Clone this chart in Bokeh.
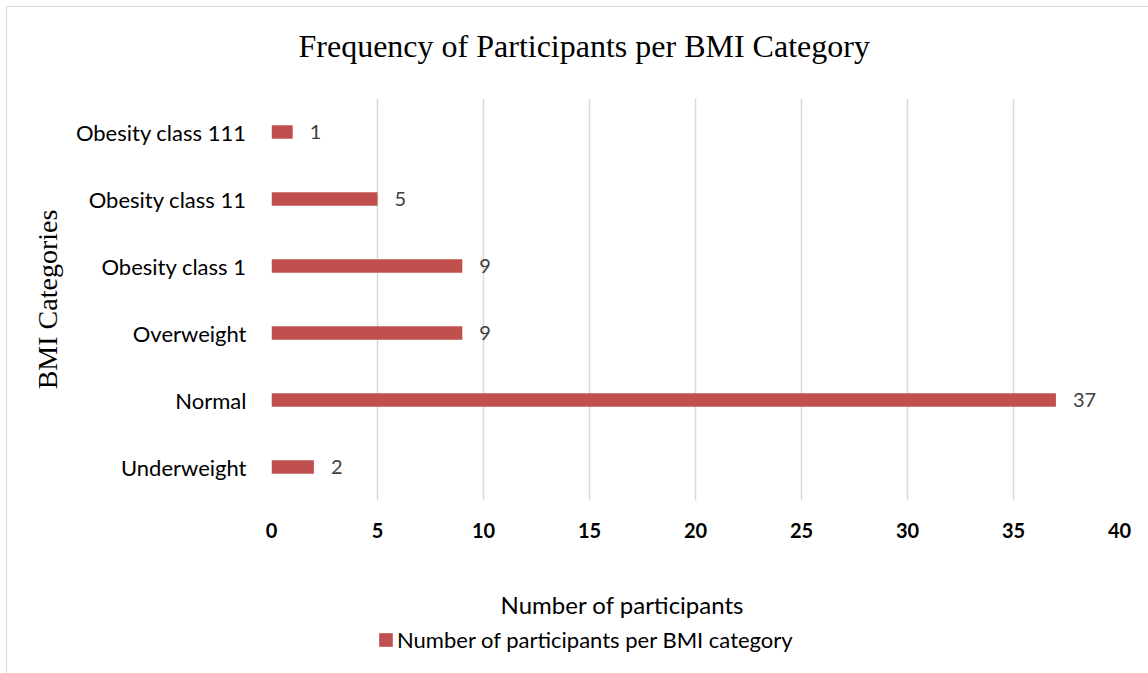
from bokeh.plotting import figure
from bokeh.layouts import column
from bokeh.models import (FactorRange, Range1d, ColumnDataSource, Legend, LegendItem,
                          FixedTicker, LabelSet, Label)
from bokeh.core.properties import value
from bokeh.embed import file_html
from bokeh.resources import INLINE

# BMI categories, bottom to top
categories = ["Underweight", "Normal", "Overweight", "Obesity class 1",
              "Obesity class 11", "Obesity class 111"]
participants = [2, 37, 9, 9, 5, 1]
x_ticks = [0, 5, 10, 15, 20, 25, 30, 35, 40]

title_text = "Frequency of Participants per BMI Category"
x_title = "Number of participants"
y_title = "BMI Categories"
series_name = "Number of participants per BMI category"

BAR = "#C0504D"
GRID = "#D9D9D9"
SANS = "Lato"
SERIF = "Liberation Serif"
W = 1142
LEFT, RIGHT = 264, 30      # border widths shared by all three stacked figures


def band(height):
    """A bare figure sharing the chart's left/right borders, used for text bands."""
    f = figure(width=W, height=height, x_range=Range1d(0, 1), y_range=Range1d(0, 1),
               output_backend="svg", toolbar_location=None,
               min_border_left=LEFT, min_border_right=RIGHT,
               min_border_top=0, min_border_bottom=0)
    f.axis.visible = False
    f.grid.visible = False
    f.outline_line_color = None
    f.background_fill_color = "white"
    f.border_fill_color = "white"
    return f


# --- title band ---
head = band(91)
head.add_layout(Label(x=27, y=53, x_units="screen", y_units="screen", text=title_text,
                      text_align="left", text_baseline="middle", text_font=SERIF,
                      text_font_size="32px", text_color="#000000"))

# --- main chart ---
src = ColumnDataSource(dict(cat=categories, n=participants,
                            lbl=[str(v) for v in participants]))

p = figure(width=W, height=452,
           y_range=FactorRange(*categories), x_range=Range1d(0, 40),
           output_backend="svg", toolbar_location=None,
           min_border_left=LEFT, min_border_right=RIGHT,
           min_border_top=0, min_border_bottom=50)
p.outline_line_color = None
p.background_fill_color = "white"
p.border_fill_color = "white"

bars = p.hbar(y="cat", right="n", left=0, height=0.2, source=src,
              fill_color=BAR, line_color=None)

p.add_layout(LabelSet(x="n", y="cat", text="lbl", source=src, x_offset=17,
                      text_baseline="middle", text_color="#404040",
                      text_font=value(SANS), text_font_size="20px"))

xa = p.xaxis[0]
xa.ticker = FixedTicker(ticks=x_ticks)
xa.axis_line_color = None
xa.major_tick_line_color = None
xa.minor_tick_line_color = None
xa.major_label_standoff = 16
xa.major_label_text_font = SANS
xa.major_label_text_font_style = "bold"
xa.major_label_text_font_size = "20px"
xa.major_label_text_color = "#000000"

ya = p.yaxis[0]
ya.axis_line_color = None
ya.major_tick_line_color = None
ya.minor_tick_line_color = None
ya.major_label_standoff = 19
ya.major_label_text_font = SANS
ya.major_label_text_font_size = "22px"
ya.major_label_text_color = "#000000"
ya.axis_label = y_title
ya.axis_label_text_font = SERIF
ya.axis_label_text_font_size = "28px"
ya.axis_label_text_font_style = "normal"
ya.axis_label_text_color = "#000000"
ya.axis_label_standoff = 10

p.xgrid.grid_line_color = GRID
p.xgrid.grid_line_width = 1.5
p.ygrid.grid_line_color = None

# --- axis title and legend band ---
foot = band(124)
foot.add_layout(Label(x=351, y=70, x_units="screen", y_units="screen", text=x_title,
                      text_align="center", text_baseline="middle", text_font=SANS,
                      text_font_size="24px", text_color="#000000"))

# zero-size bar that only supplies the legend swatch's styling
swatch = foot.hbar(y=[0], left=[0], right=[0], height=0, fill_color=BAR, line_color=None)
legend = Legend(items=[LegendItem(label=series_name, renderers=[swatch])],
                location=(106, 21), orientation="horizontal",
                border_line_color=None, background_fill_alpha=0,
                padding=0, margin=0, glyph_width=17, glyph_height=17,
                label_standoff=3, label_text_font=SANS, label_text_font_size="22px",
                label_text_color="#000000")
foot.add_layout(legend, "center")

page = column(head, p, foot, spacing=0)
page.styles = {"margin-left": "6px", "margin-top": "6px",
               "border-left": "1px solid #D9D9D9", "border-top": "1px solid #D9D9D9"}

open("out.html", "w").write(file_html(page, INLINE))
